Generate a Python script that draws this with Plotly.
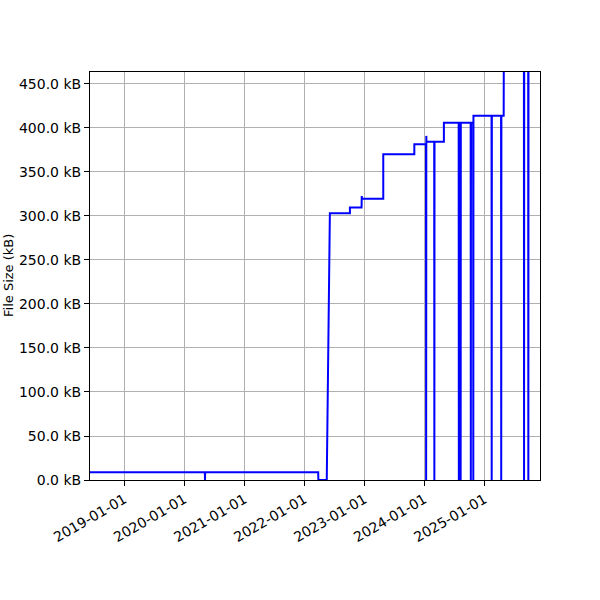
import plotly.graph_objects as go

dates = [
    "2018-06-06", "2020-05-05", "2020-05-06", "2020-05-07",
    "2022-03-26", "2022-03-27", "2022-05-17", "2022-06-05",
    "2022-10-05", "2022-10-05", "2022-12-15", "2022-12-16", "2022-12-17",
    "2023-04-26", "2023-04-26", "2023-11-01", "2023-11-01",
    "2024-01-11", "2024-01-12", "2024-01-13", "2024-01-14",
    "2024-03-01", "2024-03-02", "2024-03-03",
    "2024-04-29", "2024-04-29",
    "2024-07-28", "2024-07-29", "2024-07-30",
    "2024-08-08", "2024-08-09", "2024-08-10",
    "2024-10-09", "2024-10-10", "2024-10-11",
    "2024-10-24", "2024-10-25", "2024-10-26",
    "2025-02-13", "2025-02-14", "2025-02-15",
    "2025-04-12", "2025-04-13", "2025-04-14",
    "2025-04-28", "2025-04-29",
    "2025-08-29", "2025-08-30", "2025-08-31",
    "2025-09-24", "2025-09-25", "2025-09-26",
]
sizes_kb = [
    8.7, 8.7, 0, 8.7,
    8.7, 0, 0, 303,
    303, 309.5, 309.5, 322.7, 319.7,
    319.7, 370, 370, 381.4,
    381.4, 0, 391, 384.4,
    384.4, 0, 384.4,
    384.4, 406,
    406, 0, 406,
    406, 0, 406,
    406, 0, 406,
    406, 0, 414,
    414, 0, 414,
    414, 0, 414,
    414, 520,
    520, 0, 520,
    520, 0, 520,
]

y_ticks = [0, 50, 100, 150, 200, 250, 300, 350, 400, 450]
y_labels = [f"{v:.1f} kB" for v in y_ticks]
x_ticks = ["2019-01-01", "2020-01-01", "2021-01-01", "2022-01-01",
           "2023-01-01", "2024-01-01", "2025-01-01"]

fig = go.Figure()
fig.add_trace(go.Scatter(x=dates, y=sizes_kb, mode="lines",
                         line=dict(color="#0000ff", width=2),
                         showlegend=False))

font = dict(family="DejaVu Sans", size=14, color="black")
fig.update_layout(
    width=600, height=600,
    margin=dict(l=90, r=60, t=72, b=120),
    paper_bgcolor="white", plot_bgcolor="white",
    font=font,
)
fig.add_annotation(
    text="File Size (kB)", xref="paper", yref="paper",
    x=-0.1822, y=0.5, xanchor="center", yanchor="middle",
    textangle=-90, showarrow=False,
    font=dict(family="DejaVu Sans", size=13, color="black"),
)
fig.update_xaxes(
    type="date", range=["2018-06-06", "2025-12-05"], automargin=False,
    tickvals=x_ticks, ticktext=x_ticks, tickangle=-30,
    showgrid=True, gridcolor="#b0b0b0", gridwidth=1,
    showline=True, linecolor="black", linewidth=1, mirror=True,
    ticks="outside", ticklen=5, tickcolor="black", zeroline=False,
)
fig.update_yaxes(
    range=[0, 463.6], tickvals=y_ticks, ticktext=y_labels, automargin=False,
    showgrid=True, gridcolor="#b0b0b0", gridwidth=1,
    showline=True, linecolor="black", linewidth=1, mirror=True,
    ticks="outside", ticklen=5, tickcolor="black", zeroline=False,
)
fig.write_html("out.html", config={"displayModeBar": False},
               post_script="document.body.style.margin='0';")
